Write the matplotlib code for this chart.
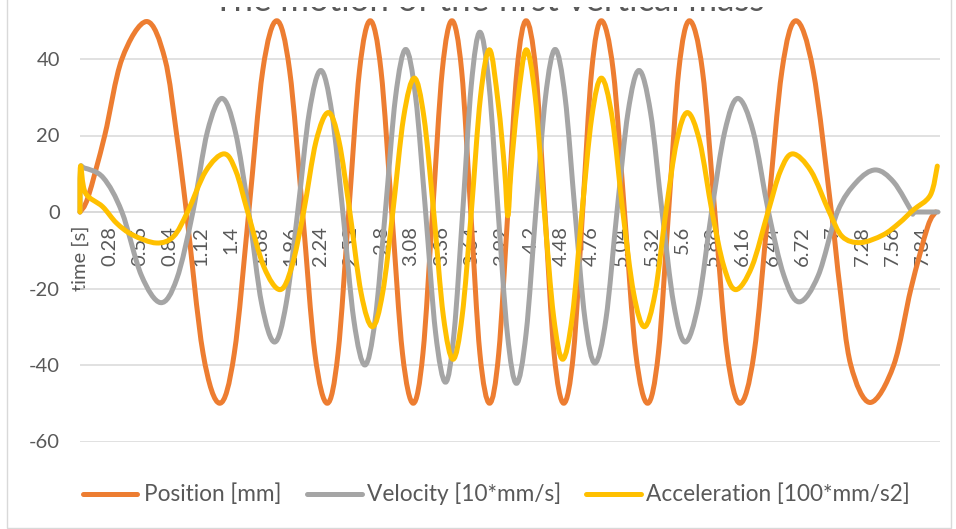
import numpy as np
import matplotlib
matplotlib.use("Agg")
import matplotlib.pyplot as plt
from matplotlib.path import Path
from matplotlib.patches import PathPatch, Rectangle
from matplotlib.lines import Line2D

# ---------------- data ----------------
pos_t = [0.00, 0.075, 0.23, 0.39, 0.62, 0.79, 0.90, 0.99, 1.145, 1.30, 1.435, 1.57,
         1.70, 1.83, 1.95, 2.07, 2.185, 2.30, 2.40, 2.50, 2.60, 2.70, 2.80, 2.90,
         3.00, 3.10, 3.19, 3.28, 3.37, 3.46, 3.55, 3.635, 3.72, 3.81, 3.895, 3.98,
         4.065, 4.15, 4.24, 4.325, 4.41, 4.50, 4.59, 4.675, 4.76, 4.85, 4.96, 5.065,
         5.17, 5.28, 5.38, 5.475, 5.57, 5.67, 5.79, 5.905, 6.02, 6.14, 6.27, 6.40,
         6.53, 6.66, 6.82, 6.99, 7.07, 7.17, 7.35, 7.57, 7.73, 7.885, 7.96]
pos_v = [0, 3.9, 20, 40, 49.8, 40, 20, 0, -37, -50, -37, 0,
         37, 50, 37, 0, -37, -50, -37, 0, 37, 50, 37, 0,
         -37, -50, -37, 0, 37, 50, 37, 0, -37, -50, -37, 0,
         37, 50, 37, 0, -37, -50, -37, 0, 37, 50, 37, 0,
         -37, -50, -37, 0, 37, 50, 37, 0, -37, -50, -37, 0,
         37, 50, 37, 0, -20, -40, -49.8, -40, -20, -3.9, 0]

vel_t = [0.00, 0.005, 0.04, 0.215, 0.39, 0.57, 0.75, 0.90, 1.05, 1.185, 1.32, 1.445,
         1.57, 1.69, 1.81, 1.9175, 2.025, 2.1325, 2.24, 2.3425, 2.445, 2.5475, 2.65,
         2.745, 2.84, 2.935, 3.03, 3.1225, 3.215, 3.3075, 3.40, 3.48, 3.56, 3.64,
         3.72, 3.805, 3.89, 3.975, 4.06, 4.15, 4.24, 4.33, 4.42, 4.5125, 4.605,
         4.6975, 4.79, 4.8925, 4.995, 5.0975, 5.20, 5.3075, 5.415, 5.5225, 5.63,
         5.7525, 5.875, 5.9975, 6.12, 6.2625, 6.405, 6.5475, 6.69, 6.8675, 7.045,
         7.2225, 7.40, 7.57, 7.74, 7.75, 7.98]
vel_v = [0, 11, 11.5, 9, 0, -16.5, -23.7, -17.5, 0, 21, 29.7, 21,
         0, -24, -34, -24, 0, 26, 37, 26, 0, -28.3, -40,
         -28.3, 0, 30, 42.5, 30, 0, -31.5, -44.5, -31.5, 0, 33.2,
         47, 33.2, 0, -31.7, -44.8, -31.7, 0, 30, 42.5, 30, 0,
         -28, -39.5, -28, 0, 26, 37, 26, 0, -24, -34,
         -24, 0, 21, 29.7, 21, 0, -16.6, -23.5, -16.6, 0,
         7.8, 11, 7.8, 0, 0, 0]

acc_t = [0.00, 0.005, 0.05, 0.21, 0.34, 0.49, 0.71, 0.87, 1.00, 1.17, 1.34, 1.45,
         1.56, 1.71, 1.86, 1.97, 2.08, 2.195, 2.31, 2.41, 2.51, 2.615, 2.72, 2.815,
         2.91, 3.01, 3.11, 3.20, 3.29, 3.38, 3.47, 3.555, 3.64, 3.725, 3.81, 3.89,
         3.95, 3.98, 4.01, 4.07, 4.15, 4.235, 4.32, 4.405, 4.49, 4.58, 4.67, 4.76,
         4.85, 4.95, 5.05, 5.15, 5.25, 5.35, 5.45, 5.55, 5.65, 5.765, 5.88, 5.99,
         6.10, 6.25, 6.40, 6.515, 6.63, 6.80, 6.97, 7.09, 7.26, 7.47, 7.62, 7.75,
         7.91, 7.975]
acc_v = [0, 12, 5, 1.4, -2.9, -6, -8.1, -6.4, 0, 10.7, 15.2, 10.7,
         0, -14.3, -20.3, -14.3, 0, 18.4, 26, 18.4, 0, -21.2, -30, -21.2,
         0, 24.7, 35, 24.7, 0, -27.2, -38.5, -27.2, 0, 30, 42.4, 28.5,
         11, -1, 11, 28.5, 42.4, 30, 0, -27.2, -38.5, -27.2, 0, 24.7,
         35, 24.7, 0, -21.2, -30, -21.2, 0, 18.4, 26, 18.4, 0, -14.3,
         -20.3, -14.3, 0, 10.7, 15.2, 10.7, 0, -6.4, -8, -6, -2.9, 0.5,
         4.4, 12]

tick_pos = [0, 0.28, 0.56, 0.84, 1.12, 1.4, 1.68, 1.96, 2.24, 2.52, 2.8, 3.08,
            3.36, 3.64, 3.92, 4.2, 4.48, 4.76, 5.04, 5.32, 5.6, 5.88, 6.16, 6.44,
            6.72, 7, 7.28, 7.56, 7.84]
tick_labels = ["time [s]", "0.28", "0.56", "0.84", "1.12", "1.4", "1.68", "1.96",
               "2.24", "2.52", "2.8", "3.08", "3.36", "3.64", "3.92", "4.2", "4.48",
               "4.76", "5.04", "5.32", "5.6", "5.88", "6.16", "6.44", "6.72", "7",
               "7.28", "7.56", "7.84"]
y_ticks = [-60, -40, -20, 0, 20, 40]
series_names = ["Position [mm]", "Velocity [10*mm/s]", "Acceleration [100*mm/s2]"]
colors = ["#ED7D31", "#A5A5A5", "#FFC000"]
title = "The motion of the first vertical mass"

# ---------------- figure ----------------
plt.rcParams['font.family'] = ['Lato', 'DejaVu Sans']
W, H = 956, 529
fig = plt.figure(figsize=(W / 100, H / 100), dpi=100)
ax = fig.add_axes([80 / W, 1 - 441.5 / H, 860 / W, 420.75 / H])
ax.set_xlim(0, 8.0)
ax.set_ylim(-60, 50)

ax.set_yticks(y_ticks)
ax.set_yticklabels([str(v) for v in y_ticks])
ax.set_xticks(tick_pos)
ax.set_xticklabels(tick_labels)
ax.tick_params(axis='both', length=0, colors='#595959', labelsize=14.5)
ax.tick_params(axis='y', pad=14.5)
ax.tick_params(axis='x', pad=10, labelrotation=90)
for lbl in ax.get_xticklabels():
    lbl.set_verticalalignment('top')
    lbl.set_horizontalalignment('center')
ax.yaxis.grid(True, color='#D9D9D9', lw=1.1)
ax.set_axisbelow(True)
for s in ['top', 'right', 'left']:
    ax.spines[s].set_visible(False)
ax.spines['bottom'].set_position(('data', 0))
ax.spines['bottom'].set_color('#D9D9D9')
ax.spines['bottom'].set_linewidth(1.1)
ax.patch.set_alpha(0)


def smooth_path(ts, vs):
    P = np.column_stack([ts, vs]).astype(float)
    n = len(P)
    verts = [P[0]]
    codes = [Path.MOVETO]
    for i in range(n - 1):
        p0 = P[i - 1] if i > 0 else P[i]
        p1 = P[i]
        p2 = P[i + 1]
        p3 = P[i + 2] if i + 2 < n else P[i + 1]
        c1 = p1 + (p2 - p0) / 6.0
        c2 = p2 - (p3 - p1) / 6.0
        verts += [c1, c2, p2]
        codes += [Path.CURVE4] * 3
    return Path(verts, codes)


for k, (ts, vs) in enumerate([(pos_t, pos_v), (vel_t, vel_v), (acc_t, acc_v)]):
    patch = PathPatch(smooth_path(ts, vs), fill=False, edgecolor=colors[k],
                      lw=3.6, joinstyle='round', capstyle='round',
                      transform=ax.transData, zorder=3 + k, clip_on=False)
    ax.add_patch(patch)

# chart border
fig.add_artist(Rectangle((7 / W, 1 / H), (951 - 7) / W, 1.2, transform=fig.transFigure,
                         fill=False, edgecolor='#D9D9D9', lw=1.0))

# title (only its lowest strip is visible in the source)
fig.text(489 / W, 1 - 11 / H, title, ha='center', va='baseline', fontsize=25,
         color='#595959', zorder=3)
fig.add_artist(Rectangle((150 / W, 1 - 7 / H), 660 / W, 7 / H, transform=fig.transFigure,
                         facecolor='white', edgecolor='none', zorder=20))

# legend (manual)
leg_y = 1 - 494 / H
base_y = 1 - 501 / H
handles = [(83, 137, 144), (307, 362, 367), (586, 641, 646)]
for k, (x0, x1, xt) in enumerate(handles):
    fig.add_artist(Line2D([x0 / W, x1 / W], [leg_y, leg_y], transform=fig.transFigure,
                          color=colors[k], lw=3.6, solid_capstyle='round'))
    fig.text(xt / W, base_y, series_names[k], ha='left', va='baseline',
             fontsize=16.3, color='#595959')

fig.savefig("out.png", dpi=100)
